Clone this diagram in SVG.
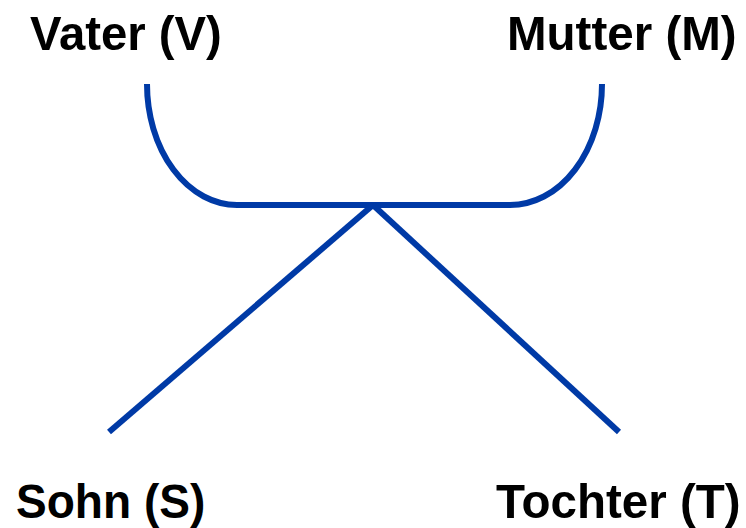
<svg xmlns="http://www.w3.org/2000/svg" width="746" height="528" viewBox="0 0 746 528">
<style>
.lbl{font-family:"Liberation Sans",Arial,sans-serif;font-weight:bold;font-size:49px;fill:#000}
.ln{fill:none;stroke:#003aa6;stroke-width:6}
</style>
<rect width="746" height="528" fill="#fff"/>
<g id="connectors">
<path class="ln" d="M147,84 A90,121 0 0 0 237,205 L510,205 A92,121 0 0 0 602,84"/>
<path class="ln" d="M373,205 L109,432"/>
<path class="ln" d="M373,205 L619,432"/>
</g>
<g id="vater"><text class="lbl" transform="translate(30,50) scale(0.965,1)">Vater (V)</text></g>
<g id="mutter"><text class="lbl" transform="translate(507,50) scale(0.97,1)">Mutter (M)</text></g>
<g id="sohn"><text class="lbl" transform="translate(16,518) scale(0.94,1)">Sohn (S)</text></g>
<g id="tochter"><text class="lbl" transform="translate(496,518) scale(0.97,1)">Tochter (T)</text></g>
</svg>
